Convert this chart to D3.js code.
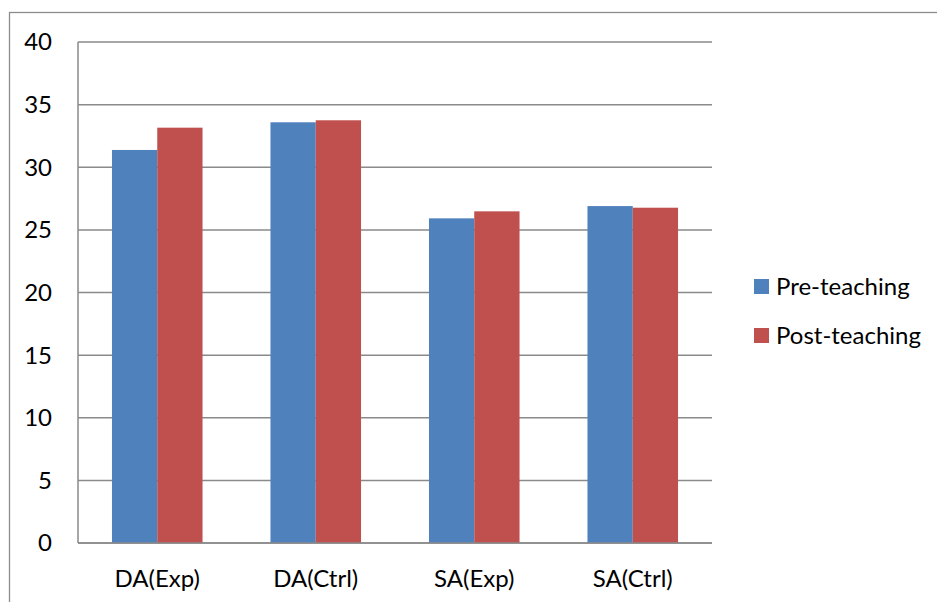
<!DOCTYPE html>
<html>
<head>
<meta charset="utf-8">
<script src="https://cdn.jsdelivr.net/npm/d3@7"></script>
<style>
  html, body { margin: 0; padding: 0; background: #fff; }
  svg { display: block; }
  text { font-family: Lato, "Open Sans", "Liberation Sans", sans-serif; fill: #000; }
</style>
</head>
<body>
<svg id="chart" width="937" height="602"></svg>
<script>
// Mean scores per group, before and after teaching
const categories = ["DA(Exp)", "DA(Ctrl)", "SA(Exp)", "SA(Ctrl)"];
const seriesNames = ["Pre-teaching", "Post-teaching"];
const preTeaching = [31.38, 33.59, 25.92, 26.90];
const postTeaching = [33.16, 33.75, 26.48, 26.77];
const yTicks = [0, 5, 10, 15, 20, 25, 30, 35, 40];
const colors = ["#4F81BD", "#C0504D"];

const svg = d3.select("#chart");
const plot = { left: 78, right: 712, top: 42, bottom: 543 };
const fontSize = 24;

// outer chart frame
svg.append("rect")
  .attr("x", 9.5).attr("y", 12.5)
  .attr("width", 940).attr("height", 600)
  .attr("fill", "none").attr("stroke", "#8c8c8c").attr("stroke-width", 1.3);

const x0 = d3.scaleBand().domain(categories).range([plot.left, plot.right]).paddingInner(0).paddingOuter(0);
// two bars per group with a 150% gap: 3.5 bar widths per group
const groupW = x0.bandwidth();
const barW = groupW / 3.5;
const x1 = d3.scaleBand().domain(seriesNames).range([groupW / 2 - barW, groupW / 2 + barW]);
const y = d3.scaleLinear().domain([0, 40]).range([plot.bottom, plot.top]);

// gridlines
svg.append("g").selectAll("line").data(yTicks).join("line")
  .attr("x1", plot.left).attr("x2", plot.right)
  .attr("y1", d => y(d)).attr("y2", d => y(d))
  .attr("stroke", "#8a8a8a").attr("stroke-width", 1.5);

// y axis line
svg.append("line")
  .attr("x1", plot.left).attr("x2", plot.left)
  .attr("y1", plot.top).attr("y2", plot.bottom)
  .attr("stroke", "#8a8a8a").attr("stroke-width", 1.5);

// y tick labels
svg.append("g").selectAll("text").data(yTicks).join("text")
  .attr("x", 52).attr("y", d => y(d))
  .attr("dy", "0.35em")
  .attr("text-anchor", "end")
  .attr("font-size", fontSize)
  .text(d => d);

// bars
const rows = categories.map((c, i) => ({ cat: c, vals: [preTeaching[i], postTeaching[i]] }));
const groups = svg.append("g").selectAll("g").data(rows).join("g")
  .attr("transform", d => `translate(${x0(d.cat)},0)`);
groups.selectAll("rect").data(d => d.vals.map((v, j) => ({ name: seriesNames[j], v, j })))
  .join("rect")
  .attr("x", d => x1(d.name))
  .attr("width", x1.bandwidth())
  .attr("y", d => y(d.v))
  .attr("height", d => y(0) - y(d.v))
  .attr("fill", d => colors[d.j]);

// bottom axis line drawn over bars
svg.append("line")
  .attr("x1", plot.left).attr("x2", plot.right)
  .attr("y1", y(0)).attr("y2", y(0))
  .attr("stroke", "#8a8a8a").attr("stroke-width", 1.5);

// category labels
svg.append("g").selectAll("text").data(categories).join("text")
  .attr("x", d => x0(d) + groupW / 2)
  .attr("y", 587)
  .attr("text-anchor", "middle")
  .attr("font-size", fontSize)
  .text(d => d);

// legend
const legend = svg.append("g").selectAll("g").data(seriesNames).join("g")
  .attr("transform", (d, i) => `translate(754,${279 + i * 49})`);
legend.append("rect")
  .attr("width", 15).attr("height", 15)
  .attr("fill", (d, i) => colors[i]);
legend.append("text")
  .attr("x", 22).attr("y", 16)
  .attr("font-size", fontSize)
  .text(d => d);
</script>
</body>
</html>
